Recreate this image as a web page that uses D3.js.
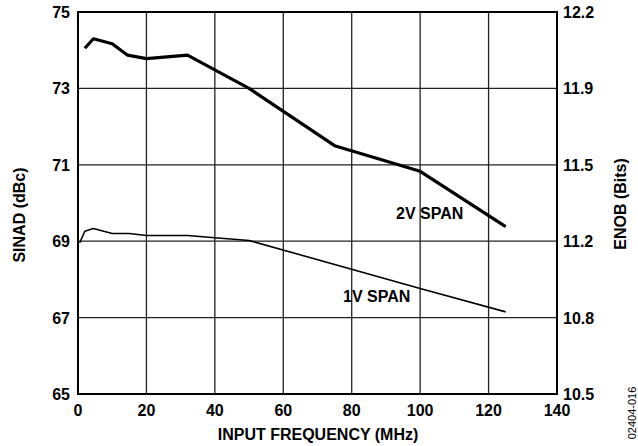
<!DOCTYPE html>
<html><head><meta charset="utf-8">
<script src="https://cdn.jsdelivr.net/npm/d3@7/dist/d3.min.js"></script>
<style>body{margin:0;background:#fff}svg{display:block}text{font-family:"Liberation Sans",Arial,sans-serif;font-weight:bold;fill:#000}</style>
</head><body><svg id="c" width="638" height="446"></svg>
<script>
const xTicks = [0,20,40,60,80,100,120,140];
const yTicks = [65,67,69,71,73,75];
const enobLabels = ["10.5","10.8","11.2","11.5","11.9","12.2"];
const span2Freq = [2,4.5,10,14.5,20,32,50,75,100,125];
const span2Sinad = [74.05,74.3,74.17,73.87,73.78,73.87,73.0,71.5,70.83,69.38];
const span1Freq = [0.5,2,4.5,10,15,20,32,40,50,100,125];
const span1Sinad = [68.96,69.26,69.33,69.2,69.2,69.15,69.15,69.09,69.02,67.76,67.15];

const svg = d3.select("#c");
const L=78,R=557,T=12,B=394;
const x = d3.scaleLinear().domain([0,140]).range([L,R]);
const y = d3.scaleLinear().domain([65,75]).range([B,T]);

// grid
svg.append("g").selectAll("line").data(xTicks.slice(1,-1)).join("line")
  .attr("x1",d=>x(d)).attr("x2",d=>x(d)).attr("y1",T).attr("y2",B)
  .attr("stroke","#222").attr("stroke-width",1.3);
svg.append("g").selectAll("line").data(yTicks.slice(1,-1)).join("line")
  .attr("y1",d=>y(d)).attr("y2",d=>y(d)).attr("x1",L).attr("x2",R)
  .attr("stroke","#222").attr("stroke-width",1.3);
svg.append("rect").attr("x",L).attr("y",T).attr("width",R-L).attr("height",B-T)
  .attr("fill","none").attr("stroke","#000").attr("stroke-width",2);

// tick labels
svg.append("g").selectAll("text").data(xTicks).join("text")
  .attr("x",d=>x(d)).attr("y",B+22).attr("text-anchor","middle")
  .attr("font-size",16).text(d=>d);
svg.append("g").selectAll("text").data(yTicks).join("text")
  .attr("x",L-8).attr("y",d=>y(d)+6).attr("text-anchor","end")
  .attr("font-size",16).text(d=>d);
svg.append("g").selectAll("text").data(yTicks).join("text")
  .attr("x",R+6).attr("y",(d,i)=>y(d)+6).attr("text-anchor","start")
  .attr("font-size",16).text((d,i)=>enobLabels[i]);

// axis titles
svg.append("text").attr("x",318).attr("y",440).attr("text-anchor","middle")
  .attr("font-size",16).text("INPUT FREQUENCY (MHz)");
svg.append("text").attr("transform","translate(25,215) rotate(-90)").attr("text-anchor","middle")
  .attr("font-size",16).text("SINAD (dBc)");
svg.append("text").attr("transform","translate(626,204) rotate(-90)").attr("text-anchor","middle")
  .attr("font-size",16).text("ENOB (Bits)");
svg.append("text").attr("transform","translate(636,413) rotate(-90)").attr("text-anchor","middle")
  .attr("font-size",11).style("font-weight","normal").attr("fill","#333").text("02404-016");

// lines
const line = d3.line().x(d=>x(d[0])).y(d=>y(d[1]));
svg.append("path").datum(span2Freq.map((f,i)=>[f,span2Sinad[i]])).attr("d",line)
  .attr("fill","none").attr("stroke","#000").attr("stroke-width",3.2).attr("stroke-linejoin","round");
svg.append("path").datum(span1Freq.map((f,i)=>[f,span1Sinad[i]])).attr("d",line)
  .attr("fill","none").attr("stroke","#000").attr("stroke-width",1.6).attr("stroke-linejoin","round");

svg.append("text").attr("x",396).attr("y",219).attr("font-size",16).text("2V SPAN");
svg.append("text").attr("x",343).attr("y",302).attr("font-size",16).text("1V SPAN");
</script></body></html>
